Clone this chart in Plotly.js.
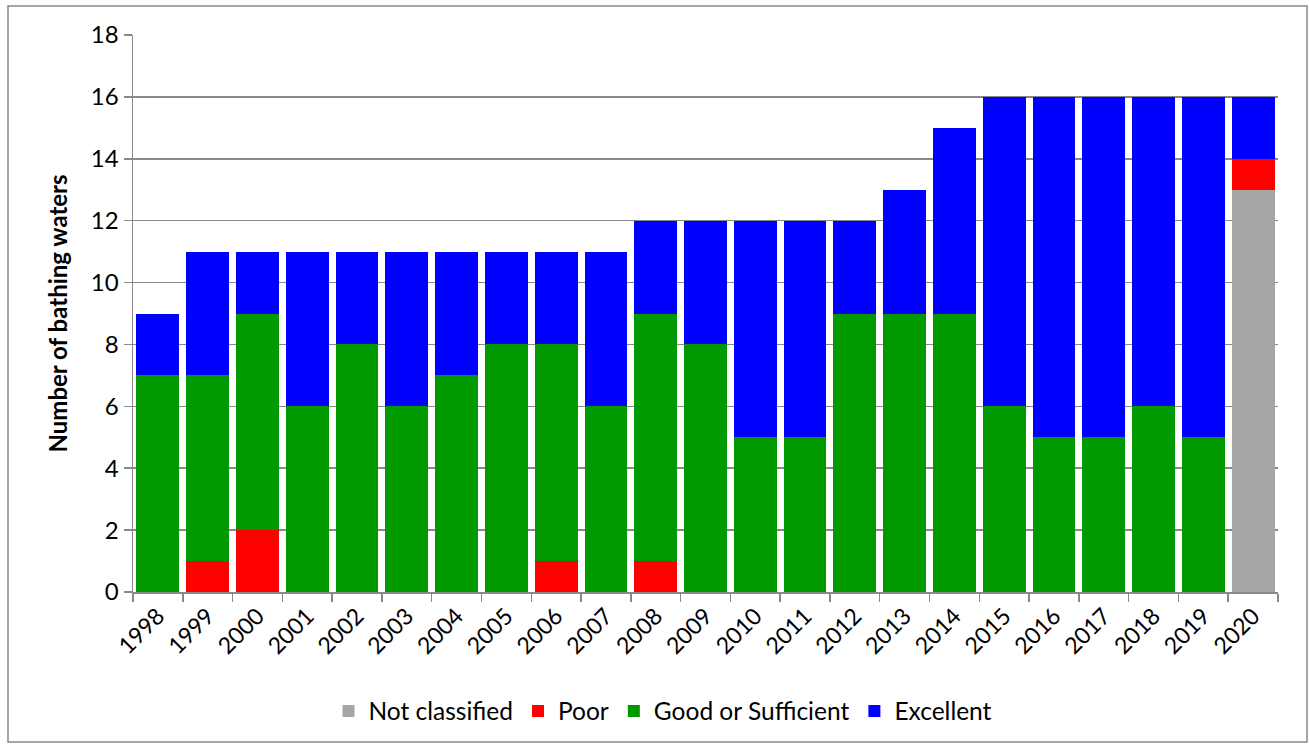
<!DOCTYPE html>
<html>
<head>
<meta charset="utf-8">
<script src="https://cdn.plot.ly/plotly-3.0.1.min.js"></script>
<style>html,body{margin:0;padding:0;background:#fff;}#chart{width:1309px;height:746px;}</style>
</head>
<body>
<div id="chart"></div>
<script>
const years = ['1998','1999','2000','2001','2002','2003','2004','2005','2006','2007','2008','2009','2010','2011','2012','2013','2014','2015','2016','2017','2018','2019','2020'];
const notClassified = [0,0,0,0,0,0,0,0,0,0,0,0,0,0,0,0,0,0,0,0,0,0,13];
const poor          = [0,1,2,0,0,0,0,0,1,0,1,0,0,0,0,0,0,0,0,0,0,0,1];
const goodOrSuff    = [7,6,7,6,8,6,7,8,7,6,8,8,5,5,9,9,9,6,5,5,6,5,0];
const excellent     = [2,4,2,5,3,5,4,3,3,5,3,4,7,7,3,4,6,10,11,11,10,11,2];

const font = "Lato, 'Open Sans', 'Liberation Sans', sans-serif";
const W = 1309, H = 746, L = 133, R = 31, T = 35, B = 154;
const pw = W - L - R, ph = H - T - B;
const px = v => (v - L) / pw;
const py = v => (H - B - v) / ph;

const mk = (name, y, color) => ({
  type: 'bar', name: name, x: years, y: y,
  marker: {color: color, line: {width: 0}},
  hovertemplate: '%{x}: %{y}<extra>' + name + '</extra>'
});
const data = [
  mk('Not classified', notClassified, '#A6A6A6'),
  mk('Poor', poor, '#FF0000'),
  mk('Good or Sufficient', goodOrSuff, '#009900'),
  mk('Excellent', excellent, '#0000FF')
];
const layout = {
  width: W, height: H,
  margin: {l: L, r: R, t: T, b: B},
  barmode: 'stack', bargap: 0.14,
  paper_bgcolor: '#fff', plot_bgcolor: '#fff',
  font: {family: font, size: 23, color: '#000'},
  xaxis: {
    type: 'category', tickangle: -45, tickson: 'boundaries',
    ticks: 'outside', ticklen: 8, tickcolor: '#898989', tickwidth: 1.5,
    showline: true, linecolor: '#898989', linewidth: 1.5,
    showgrid: false, tickfont: {family: font, size: 23}
  },
  yaxis: {
    range: [0, 18], dtick: 2, tick0: 0,
    ticks: 'outside', ticklen: 8, tickcolor: '#898989', tickwidth: 1.5,
    showline: true, linecolor: '#898989', linewidth: 1.5,
    showgrid: true, gridcolor: '#898989', gridwidth: 1.5, zeroline: false,
    tickfont: {family: font, size: 24},
    title: {text: '<b>Number of bathing waters</b>', font: {family: font, size: 24}, standoff: 16}
  },
  legend: {
    orientation: 'h', x: px(663), xanchor: 'center', y: py(711), yanchor: 'middle',
    traceorder: 'normal', font: {family: font, size: 24.5}, itemwidth: 30
  },
  shapes: [{
    type: 'rect', xref: 'paper', yref: 'paper',
    x0: px(8), x1: px(1307), y0: py(742), y1: py(6),
    line: {color: '#898989', width: 1.5}, fillcolor: 'rgba(0,0,0,0)', layer: 'below'
  }]
};
Plotly.newPlot('chart', data, layout, {displayModeBar: false, staticPlot: true});
</script>
</body>
</html>
